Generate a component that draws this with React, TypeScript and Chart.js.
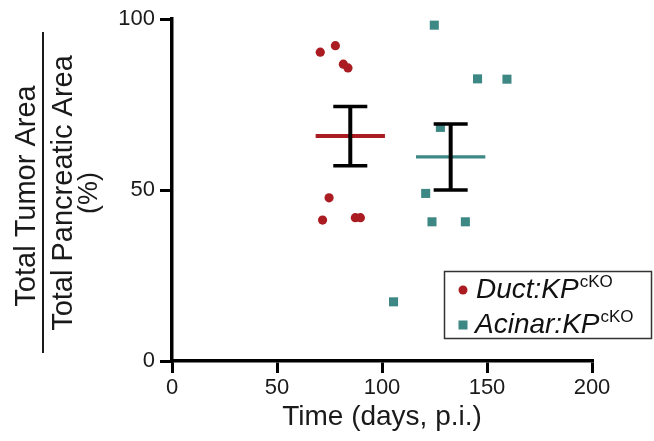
import React, { useEffect, useRef } from "react";
import { Chart, registerables } from "chart.js";

Chart.register(...registerables);

// ---- data ----
const ductX = [70.6, 77.8, 81.6, 83.8, 74.8, 71.7, 87.3, 89.7];
const ductY = [90.3, 92.2, 86.8, 85.7, 47.7, 41.2, 41.9, 41.9];
const acinarX = [124.9, 145.5, 159.5, 127.8, 120.8, 123.8, 139.7, 105.5];
const acinarY = [98.2, 82.5, 82.4, 68.3, 49.0, 40.7, 40.7, 17.3];

const groupNames = ["Duct:KP", "Acinar:KP"];
const groupSuperscript = ["cKO", "cKO"];
const groupCenters = [84.9, 132.7];
const groupMeans = [65.8, 59.7];
const groupSemLow = [57.1, 50.0];
const groupSemHigh = [74.4, 69.3];

const xTicks = [0, 50, 100, 150, 200];
const yTicks = [0, 50, 100];
const xTitle = "Time (days, p.i.)";
const yTitleTop = "Total Tumor Area";
const yTitleBottom = "Total Pancreatic Area";
const yTitleUnit = "(%)";

// ---- styles ----
const RED = "#AA1C21";
const TEAL = "#3D8884";
const FONT = "'Liberation Sans', Arial, Helvetica, sans-serif";
const MEAN_HALF = 16.5;
const CAP_HALF = 8.1;

function seg(x1: number, y1: number, x2: number, y2: number, color: string, width: number, order: number) {
  return {
    type: "line" as const,
    data: [
      { x: x1, y: y1 },
      { x: x2, y: y2 },
    ],
    borderColor: color,
    borderWidth: width,
    pointRadius: 0,
    pointHoverRadius: 0,
    fill: false,
    tension: 0,
    borderCapStyle: "butt" as const,
    order,
  };
}

const overlayPlugin = {
  id: "overlay",
  afterDraw(chart: any) {
    const ctx = chart.ctx as CanvasRenderingContext2D;
    ctx.save();
    ctx.fillStyle = "#1a1a1a";
    // y-axis fraction title
    const drawRot = (text: string, bx: number, cy: number, size: number) => {
      ctx.save();
      ctx.translate(bx, cy);
      ctx.rotate(-Math.PI / 2);
      ctx.font = `${size}px ${FONT}`;
      ctx.textAlign = "center";
      ctx.textBaseline = "alphabetic";
      ctx.fillText(text, 0, 0);
      ctx.restore();
    };
    drawRot(yTitleTop, 35, 196, 29);
    drawRot(yTitleBottom, 72, 193, 29);
    drawRot(yTitleUnit, 97, 193, 27);
    ctx.strokeStyle = "#1a1a1a";
    ctx.lineWidth = 2;
    ctx.beginPath();
    ctx.moveTo(43, 32);
    ctx.lineTo(43, 353);
    ctx.stroke();

    // legend
    ctx.strokeStyle = "#333";
    ctx.lineWidth = 1.5;
    ctx.strokeRect(444.5, 271.5, 207, 67);
    const rows = [
      { color: RED, shape: "circle", x: 476, base: 298 },
      { color: TEAL, shape: "rect", x: 475, base: 333 },
    ];
    rows.forEach((r, i) => {
      ctx.fillStyle = r.color;
      const my = r.base - 8;
      if (r.shape === "circle") {
        ctx.beginPath();
        ctx.arc(463, my, 4.5, 0, Math.PI * 2);
        ctx.fill();
      } else {
        ctx.fillRect(458.5, my - 4.5, 9, 9);
      }
      ctx.fillStyle = "#111";
      ctx.textAlign = "left";
      ctx.textBaseline = "alphabetic";
      ctx.font = `italic 28px ${FONT}`;
      ctx.fillText(groupNames[i], r.x, r.base);
      const w = ctx.measureText(groupNames[i]).width;
      ctx.font = `17px ${FONT}`;
      ctx.fillText(groupSuperscript[i], r.x + w + 1, r.base - 11);
    });
    ctx.restore();
  },
};

export default function App() {
  const ref = useRef<HTMLCanvasElement | null>(null);

  useEffect(() => {
    if (!ref.current) return;
    const colors = [RED, TEAL];
    const datasets: any[] = [
      {
        type: "line",
        label: groupNames[0],
        data: ductX.map((x, i) => ({ x, y: ductY[i] })),
        showLine: false,
        pointStyle: "circle",
        pointRadius: 4.6,
        pointHoverRadius: 4.6,
        backgroundColor: RED,
        borderColor: RED,
        borderWidth: 0,
        order: 5,
      },
      {
        type: "line",
        label: groupNames[1],
        data: acinarX.map((x, i) => ({ x, y: acinarY[i] })),
        showLine: false,
        pointStyle: "rect",
        pointRadius: 6.4,
        pointHoverRadius: 6.4,
        backgroundColor: TEAL,
        borderColor: TEAL,
        borderWidth: 0,
        order: 5,
      },
    ];
    groupCenters.forEach((c, i) => {
      const m = groupMeans[i];
      const lo = groupSemLow[i];
      const hi = groupSemHigh[i];
      datasets.push(seg(c - MEAN_HALF, m, c + MEAN_HALF, m, colors[i], i === 0 ? 4 : 3.2, 3));
      datasets.push(seg(c, lo, c, hi, "#000", 4, 2));
      datasets.push(seg(c - CAP_HALF, hi, c + CAP_HALF, hi, "#000", 3.5, 2));
      datasets.push(seg(c - CAP_HALF, lo, c + CAP_HALF, lo, "#000", 3.5, 2));
    });

    const chart = new Chart(ref.current, {
      type: "line",
      data: { datasets },
      options: {
        animation: false,
        responsive: false,
        devicePixelRatio: 1,
        layout: { padding: { top: 19, right: 62, left: 0, bottom: 0 } },
        plugins: {
          legend: { display: false },
          tooltip: { enabled: false },
        },
        scales: {
          x: {
            type: "linear",
            min: 0,
            max: 200,
            afterBuildTicks: (s: any) => {
              s.ticks = xTicks.map((v) => ({ value: v }));
            },
            afterFit: (s: any) => {
              s.height = 80;
            },
            ticks: {
              font: { family: FONT, size: 22 },
              color: "#1a1a1a",
              padding: 2,
              maxRotation: 0,
              autoSkip: false,
            },
            grid: {
              drawOnChartArea: false,
              drawTicks: true,
              tickLength: 12,
              lineWidth: 3,
              color: "#000",
            },
            border: { color: "#000", width: 3.5 },
            title: {
              display: true,
              text: xTitle,
              font: { family: FONT, size: 28 },
              color: "#1a1a1a",
              padding: { top: 0, bottom: 7 },
            },
          },
          y: {
            type: "linear",
            min: 0,
            max: 100,
            afterBuildTicks: (s: any) => {
              s.ticks = yTicks.map((v) => ({ value: v }));
            },
            afterFit: (s: any) => {
              s.width = 172;
            },
            ticks: {
              font: { family: FONT, size: 22 },
              color: "#1a1a1a",
              padding: 5,
              autoSkip: false,
            },
            grid: {
              drawOnChartArea: false,
              drawTicks: true,
              tickLength: 12,
              lineWidth: 3,
              color: "#000",
            },
            border: { color: "#000", width: 3.5 },
          },
        },
      },
      plugins: [overlayPlugin],
    } as any);
    return () => chart.destroy();
  }, []);

  return (
    <div style={{ position: "absolute", left: 0, top: 0, width: 654, height: 441, background: "#fff" }}>
      <canvas ref={ref} width={654} height={441} style={{ display: "block" }} />
    </div>
  );
}
